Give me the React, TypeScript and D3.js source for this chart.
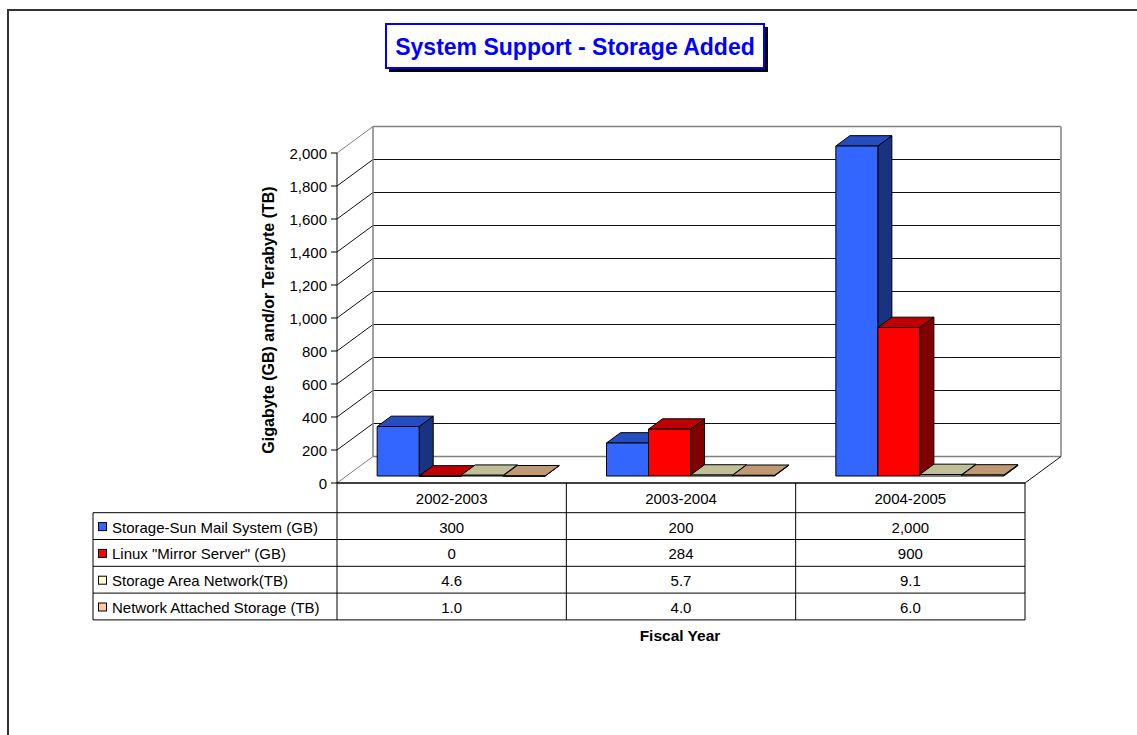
import React from "react";
import * as d3 from "d3";

const categories = ["2002-2003", "2003-2004", "2004-2005"];
const seriesNames = [
  "Storage-Sun Mail System (GB)",
  'Linux "Mirror Server" (GB)',
  "Storage Area Network(TB)",
  "Network Attached Storage (TB)",
];
const sunMail = [300, 200, 2000];
const linuxMirror = [0, 284, 900];
const storageAreaNetwork = [4.6, 5.7, 9.1];
const networkAttached = [1.0, 4.0, 6.0];
const seriesFormats = [",", ",", ".1f", ".1f"];
const seriesColors = ["#3366FF", "#FF0000", "#FFFFCC", "#FFCC99"];
const yTicks = [0, 200, 400, 600, 800, 1000, 1200, 1400, 1600, 1800, 2000];
const titleText = "System Support - Storage Added";
const yTitle = "Gigabyte (GB) and/or Terabyte (TB)";
const xTitle = "Fiscal Year";

const seriesValues = [sunMail, linuxMirror, storageAreaNetwork, networkAttached];

const FONT = "'Liberation Sans', Arial, Helvetica, sans-serif";

function shade(c: string, f: number) {
  const r = d3.rgb(c);
  return d3.rgb(r.r * f, r.g * f, r.b * f).formatHex();
}

export default function App() {
  const W = 1137;
  const H = 735;
  const frontLeft = 337;
  const frontRight = 1025;
  const ddx = 36;
  const ddy = -26.5;
  const barFront = 0.264;
  const barDepth = 0.39;

  const y = d3.scaleLinear().domain([0, 2000]).range([483, 153]);
  const x0 = d3.scaleBand<string>().domain(categories).range([frontLeft, frontRight]).padding(0);
  const x1 = d3
    .scaleBand<string>()
    .domain(seriesNames)
    .range([0, x0.bandwidth()])
    .paddingInner(0)
    .paddingOuter(0.73);

  const y0 = y(0);
  const yTop = y(2000);
  const backL = frontLeft + ddx;
  const backR = frontRight + ddx;

  // table geometry
  const tableLeft = 93;
  const headerTop = y0;
  const headerBottom = 512.7;
  const rowH = 26.8;
  const rowTops = seriesNames.map((_, i) => headerBottom + i * rowH);
  const tableBottom = headerBottom + seriesNames.length * rowH;

  const bars: React.ReactNode[] = [];
  categories.forEach((cat, ci) => {
    seriesNames.forEach((s, si) => {
      const v = seriesValues[si][ci];
      const fx = (x0(cat) as number) + (x1(s) as number) + barFront * ddx;
      const bw = x1.bandwidth();
      const fyBase = y0 + barFront * ddy;
      const fyTop = y(v) + barFront * ddy;
      const dx = barDepth * ddx;
      const dy = barDepth * ddy;
      const c = seriesColors[si];
      const side = `M${fx + bw},${fyBase} L${fx + bw + dx},${fyBase + dy} L${fx + bw + dx},${fyTop + dy} L${fx + bw},${fyTop} Z`;
      const top = `M${fx},${fyTop} L${fx + bw},${fyTop} L${fx + bw + dx},${fyTop + dy} L${fx + dx},${fyTop + dy} Z`;
      bars.push(
        <g key={`${ci}-${si}`} stroke="#000" strokeWidth={1} strokeLinejoin="round">
          <path d={side} fill={shade(c, 0.5)} />
          <path d={top} fill={shade(c, 0.75)} />
          <rect x={fx} y={fyTop} width={bw} height={Math.max(fyBase - fyTop, 0.5)} fill={c} />
        </g>
      );
    });
  });

  return (
    <svg
      width={W}
      height={H}
      style={{ position: "absolute", left: 0, top: 0, background: "#fff" }}
      fontFamily={FONT}
    >
      <rect x={0} y={0} width={W} height={H} fill="#fff" />
      {/* outer frame */}
      <path d={`M8,${H} L8,10 L${W},10`} fill="none" stroke="#333" strokeWidth={2} />

      {/* title */}
      <rect x={389} y={27} width={379} height={45} fill="#000" />
      <rect x={386} y={24} width={378} height={44} fill="#fff" stroke="#0000FF" strokeWidth={2} />
      <text x={575} y={47} textAnchor="middle" dominantBaseline="central" fontSize={23} fontWeight="bold" fill="#0000FF">
        {titleText}
      </text>

      {/* walls */}
      <rect x={backL} y={yTop + ddy} width={backR - backL} height={y0 - yTop} fill="#fff" />
      {/* gridlines on back wall */}
      {yTicks.map((t) => (
        <line
          key={`g${t}`}
          x1={backL}
          x2={backR}
          y1={y(t) + ddy}
          y2={y(t) + ddy}
          stroke={t === 0 || t === 2000 ? "#808080" : "#111"}
          strokeWidth={t === 0 || t === 2000 ? 1.5 : 1}
        />
      ))}
      {/* left wall tick diagonals */}
      {yTicks.map((t) => (
        <line
          key={`d${t}`}
          x1={frontLeft}
          y1={y(t)}
          x2={backL}
          y2={y(t) + ddy}
          stroke={t === 0 || t === 2000 ? "#808080" : "#111"}
          strokeWidth={1}
        />
      ))}
      <line x1={backL} x2={backL} y1={yTop + ddy} y2={y0 + ddy} stroke="#808080" strokeWidth={1.5} />
      <line x1={backR} x2={backR} y1={yTop + ddy} y2={y0 + ddy} stroke="#A0A0A0" strokeWidth={2} />
      <line x1={frontRight} y1={y0} x2={backR} y2={y0 + ddy} stroke="#111" strokeWidth={1} />

      {/* bars */}
      {bars}

      {/* y axis */}
      <line x1={frontLeft} x2={frontLeft} y1={yTop} y2={y0} stroke="#000" strokeWidth={1} />
      {yTicks.map((t) => (
        <g key={`t${t}`}>
          <line x1={frontLeft - 6} x2={frontLeft} y1={y(t)} y2={y(t)} stroke="#000" />
          <text x={frontLeft - 10} y={y(t)} textAnchor="end" dominantBaseline="central" fontSize={15} fill="#000">
            {d3.format(",")(t)}
          </text>
        </g>
      ))}
      <text
        transform={`translate(268,320) rotate(-90)`}
        textAnchor="middle"
        dominantBaseline="central"
        fontSize={16}
        fontWeight="bold"
        fill="#000"
      >
        {yTitle}
      </text>

      {/* data table */}
      <g stroke="#000" strokeWidth={1} fill="none">
        <line x1={frontLeft} x2={frontRight} y1={headerTop} y2={headerTop} strokeWidth={1.5} />
        <line x1={tableLeft} x2={frontRight} y1={headerBottom} y2={headerBottom} />
        {rowTops.map((rt, i) => (
          <line key={`r${i}`} x1={tableLeft} x2={frontRight} y1={rt + rowH} y2={rt + rowH} />
        ))}
        <line x1={tableLeft} x2={tableLeft} y1={headerBottom} y2={tableBottom} />
        <line x1={frontLeft} x2={frontLeft} y1={headerTop} y2={tableBottom} />
        {categories.map((cat) => (
          <line
            key={`v${cat}`}
            x1={(x0(cat) as number) + x0.bandwidth()}
            x2={(x0(cat) as number) + x0.bandwidth()}
            y1={headerTop}
            y2={tableBottom}
          />
        ))}
      </g>
      {categories.map((cat) => (
        <text
          key={`h${cat}`}
          x={(x0(cat) as number) + x0.bandwidth() / 2}
          y={(headerTop + headerBottom) / 2 + 1}
          textAnchor="middle"
          dominantBaseline="central"
          fontSize={15}
          fill="#000"
        >
          {cat}
        </text>
      ))}
      {seriesNames.map((s, si) => (
        <g key={`row${si}`}>
          <rect
            x={98.5}
            y={rowTops[si] + rowH / 2 - 3.5}
            width={8}
            height={8}
            fill={seriesColors[si]}
            stroke="#000"
            strokeWidth={1}
          />
          <text x={112} y={rowTops[si] + rowH / 2 + 1} dominantBaseline="central" fontSize={15} fill="#000">
            {s}
          </text>
          {categories.map((cat, ci) => (
            <text
              key={`c${si}-${ci}`}
              x={(x0(cat) as number) + x0.bandwidth() / 2}
              y={rowTops[si] + rowH / 2 + 1}
              textAnchor="middle"
              dominantBaseline="central"
              fontSize={15}
              fill="#000"
            >
              {d3.format(seriesFormats[si])(seriesValues[si][ci])}
            </text>
          ))}
        </g>
      ))}

      <text x={680} y={635} textAnchor="middle" dominantBaseline="central" fontSize={15.5} fontWeight="bold" fill="#000">
        {xTitle}
      </text>
    </svg>
  );
}
